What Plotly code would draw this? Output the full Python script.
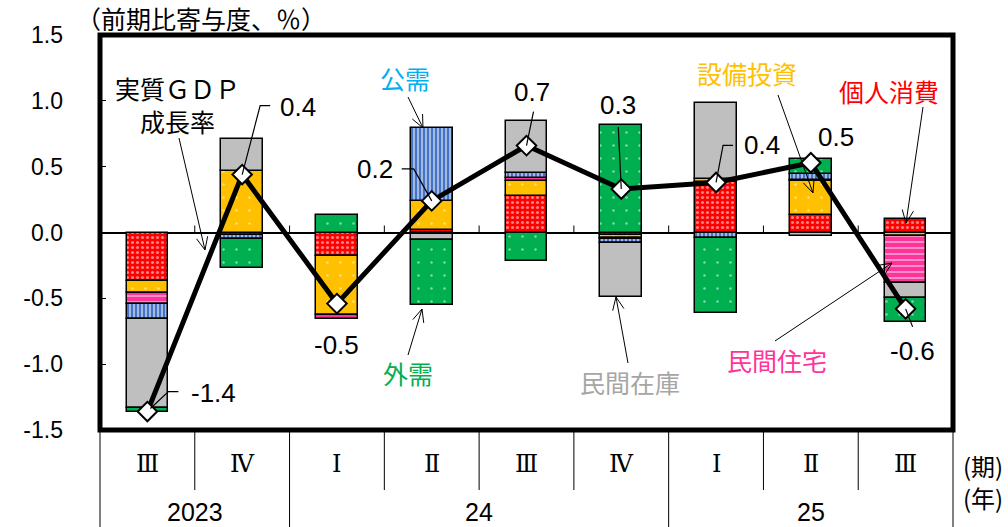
import math
import plotly.graph_objects as go

# ---- data: contributions to real GDP growth (q/q, percentage points) ----
quarters = ["Ⅲ", "Ⅳ", "Ⅰ", "Ⅱ", "Ⅲ", "Ⅳ", "Ⅰ", "Ⅱ", "Ⅲ"]
years = ["2023", "24", "25"]
year_first_q = [0, 2, 6]          # index of first quarter of each year
year_last_q = [1, 5, 8]           # index of last quarter of each year

consumption = [-0.37, -0.02, -0.18, 0.02, 0.28, -0.02, 0.38, 0.13, 0.10]   # 個人消費
capex = [-0.09, 0.47, -0.45, 0.22, 0.11, -0.02, 0.03, 0.26, -0.03]         # 設備投資
housing = [-0.08, 0.0, -0.03, -0.01, 0.025, -0.01, 0.0, 0.01, -0.35]       # 民間住宅
public = [-0.12, -0.03, 0.0, 0.55, 0.035, -0.03, -0.04, 0.045, 0.0]        # 公需
inventory = [-0.67, 0.24, 0.0, -0.05, 0.40, -0.41, 0.57, -0.025, -0.12]    # 民間在庫
external = [-0.03, -0.22, 0.13, -0.49, -0.22, 0.82, -0.57, 0.11, -0.18]    # 外需
gdp = [-1.36, 0.44, -0.54, 0.24, 0.66, 0.33, 0.38, 0.53, -0.58]            # 実質GDP成長率

y_tick_vals = [1.5, 1.0, 0.5, 0.0, -0.5, -1.0, -1.5]
y_tick_text = ["1.5", "1.0", "0.5", "0.0", "-0.5", "-1.0", "-1.5"]

# ---- geometry ----
W, H = 1008, 527
ML, MR, MT, MB = 100, 55, 35, 97
PW, PH = W - ML - MR, H - MT - MB
N = len(quarters)
CW = PW / N
PPU = PH / 3.0

JP = "Noto Sans CJK JP"
NUM = "Liberation Sans, Arial, sans-serif"
ROMAN = "DejaVu Serif, DejaVu Sans, Noto Sans CJK JP"


def px(xp):
    return (xp - ML) / PW


def py(yp):
    return (H - MB - yp) / PH


def text_at(xp, yp, text, font, xanchor="center"):
    return dict(xref="paper", yref="paper", x=px(xp), y=py(yp), text=text,
                xanchor=xanchor, yanchor="middle", showarrow=False, font=font)


x = list(range(N))

series = [
    ("個人消費", consumption, "#FF0000", dict(shape=".", fgcolor="white", size=5, solidity=0.3)),
    ("設備投資", capex, "#FFC000", dict(shape=".", fgcolor="white", size=13, solidity=0.03)),
    ("民間住宅", housing, "#FF3399", dict(shape="-", fgcolor="white", size=6, solidity=0.3)),
    ("公需", public, "#4472C4", dict(shape="|", fgcolor="white", size=4, solidity=0.5)),
    ("民間在庫", inventory, "#BFBFBF", None),
    ("外需", external, "#00B050", dict(shape=".", fgcolor="white", size=13, solidity=0.03)),
]

fig = go.Figure()
for name, vals, color, pat in series:
    marker = dict(color=color, line=dict(color="black", width=1.5))
    if pat:
        marker["pattern"] = pat
    fig.add_trace(go.Bar(
        x=x, y=[v if v != 0 else None for v in vals], name=name,
        width=0.44, marker=marker, showlegend=False,
    ))

fig.add_trace(go.Scatter(
    x=x, y=gdp, mode="lines+markers", showlegend=False,
    line=dict(color="black", width=5),
    marker=dict(symbol="diamond", size=15, color="white",
                line=dict(color="black", width=2)),
))

shapes = []
annotations = []

# frame of the plot area
shapes.append(dict(type="rect", xref="paper", yref="paper", x0=0, x1=1, y0=0, y1=1,
                   line=dict(color="black", width=5), layer="above"))

# small ticks on the zero line between quarters
for k in range(1, N):
    shapes.append(dict(type="line", xref="x", yref="y", x0=k - 0.5, x1=k - 0.5,
                       y0=0, y1=7 / PPU, line=dict(color="black", width=1), layer="below"))

# table below the plot: quarter and year separators
inner_bottom = py(490)
outer_bottom = py(527)
year_edges = set(year_first_q) | {N}
for k in range(N + 1):
    y1 = outer_bottom if k in year_edges else inner_bottom
    shapes.append(dict(type="line", xref="paper", yref="paper", x0=k / N, x1=k / N,
                       y0=0, y1=y1, line=dict(color="black", width=1)))

for i, q in enumerate(quarters):
    annotations.append(dict(xref="paper", yref="paper", x=(i + 0.5) / N, y=py(464),
                            xanchor="center", yanchor="middle", text=q, showarrow=False,
                            font=dict(family=ROMAN, size=24, color="black")))
for j, yr in enumerate(years):
    xc = (year_first_q[j] + year_last_q[j] + 1) / 2 / N
    annotations.append(dict(xref="paper", yref="paper", x=xc, y=py(512), text=yr,
                            xanchor="center", yanchor="middle", showarrow=False,
                            font=dict(family=NUM, size=25, color="black")))
annotations.append(text_at(961, 465, "(期)", dict(family=JP, size=24, color="black"), "left"))
annotations.append(text_at(961, 497, "(年)", dict(family=JP, size=24, color="black"), "left"))

# unit title
annotations.append(text_at(74, 18, "（前期比寄与度、％）", dict(family=JP, size=25, color="black"), "left"))

# GDP value labels with leader lines (offsets in pixels from the diamond)
label_pos = [(66, -19), (56, -68), (0, 41), (-57, -32), (5, -54),
             (-3, -84), (46, -37), (25, -26), (7, 42)]
leaders = {
    0: [(3, -3), (21, -20), (31, -20)],
    1: [(0, 0), (18, -69), (28, -69)],
    3: [(-30, -32), (-18, -32), (0, 0)],
    4: [(7, -34), (0, 0)],
    5: [(-3, -62), (0, 0)],
    6: [(17, -37), (7, -37), (0, 0)],
    8: [(0, 0), (7, 18)],
}
for i, v in enumerate(gdp):
    dx, dy = label_pos[i]
    annotations.append(dict(x=i, y=v, xref="x", yref="y", xshift=dx, yshift=-dy,
                            xanchor="center", yanchor="middle",
                            text=f"{v:.1f}", showarrow=False,
                            font=dict(family=NUM, size=26, color="black")))
for i, pts in leaders.items():
    path = " ".join(("M" if n == 0 else "L") + f"{i + ddx / CW:.4f},{gdp[i] - ddy / PPU:.4f}"
                    for n, (ddx, ddy) in enumerate(pts))
    shapes.append(dict(type="path", xref="x", yref="y", path=path,
                       line=dict(color="black", width=1.2)))


def arrow(tail, tip, head=14, spread=24):
    tx, ty = tail
    hx, hy = tip
    a = math.atan2(ty - hy, tx - hx)
    wings = [(hx + head * math.cos(a + s * math.radians(spread)),
              hy + head * math.sin(a + s * math.radians(spread))) for s in (-1, 1)]
    path = (f"M{px(tx):.5f},{py(ty):.5f} L{px(hx):.5f},{py(hy):.5f} "
            f"M{px(wings[0][0]):.5f},{py(wings[0][1]):.5f} L{px(hx):.5f},{py(hy):.5f} "
            f"L{px(wings[1][0]):.5f},{py(wings[1][1]):.5f}")
    return dict(type="path", xref="paper", yref="paper", path=path,
                line=dict(color="black", width=1), layer="above")


# component names with pointer arrows: (text, colour, text centre, arrow tail, arrow tip)
callouts = [
    ("実質ＧＤＰ<br>成長率", "black", (177, 105), (179, 138), (205, 250)),
    ("公需", "#00B0F0", (405, 78), (408, 97), (423, 128)),
    ("外需", "#00B050", (408, 373), (408, 355), (422, 309)),
    ("民間在庫", "#A6A6A6", (630, 382), (628, 363), (616, 297)),
    ("設備投資", "#FFC000", (747, 73), (778, 95), (813, 193)),
    ("個人消費", "#FF0000", (889, 91), (923, 107), (906, 223)),
    ("民間住宅", "#FF3399", (777, 360), (775, 341), (892, 263)),
]
for text, color, (cx, cy), tail, tip in callouts:
    annotations.append(text_at(cx, cy, text, dict(family=JP, size=25, color=color)))
    shapes.append(arrow(tail, tip))

fig.update_layout(
    width=W, height=H,
    margin=dict(l=ML, r=MR, t=MT, b=MB, pad=0),
    paper_bgcolor="white", plot_bgcolor="white",
    barmode="relative", bargap=0,
    xaxis=dict(range=[-0.5, N - 0.5], showticklabels=False, showgrid=False,
               zeroline=False, ticks="", showline=False),
    yaxis=dict(range=[-1.5, 1.5], tickvals=y_tick_vals, ticktext=y_tick_text,
               ticks="inside", ticklen=6, tickcolor="black", tickwidth=1,
               ticklabelstandoff=36, showgrid=False,
               zeroline=True, zerolinecolor="black", zerolinewidth=1.5,
               tickfont=dict(family=NUM, size=23, color="black"), showline=False),
    shapes=shapes, annotations=annotations,
)

fig.write_html("out.html")
